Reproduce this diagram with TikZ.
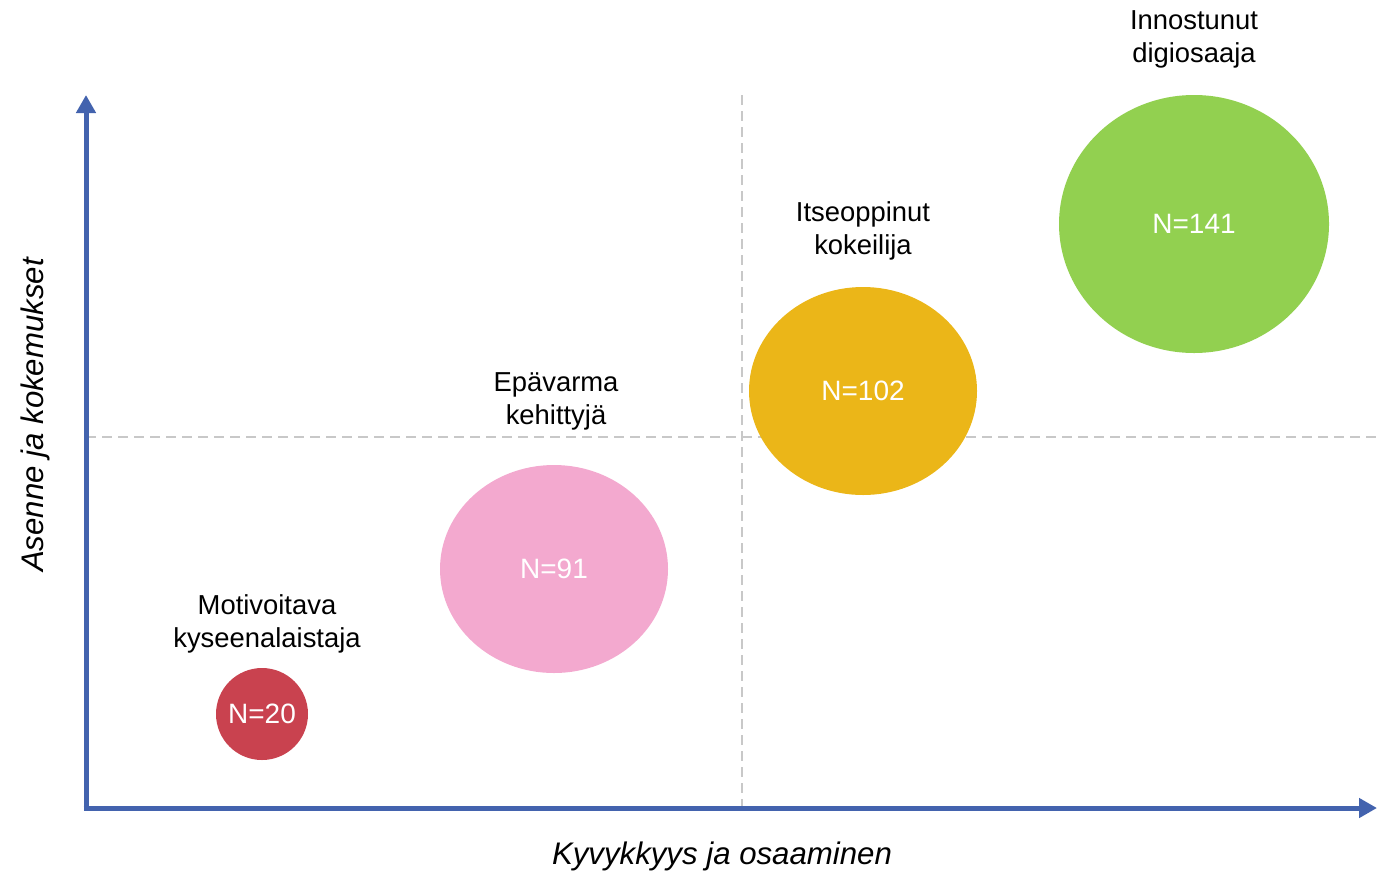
\documentclass[tikz,border=0pt]{standalone}
\usepackage{fontspec}
\setmainfont{Liberation Sans}
\usetikzlibrary{arrows.meta,shapes.geometric}
\definecolor{axisblue}{HTML}{4363AE}
\definecolor{gridgray}{HTML}{C8C8C8}
\definecolor{cred}{HTML}{C9424F}
\definecolor{cpink}{HTML}{F3A9CF}
\definecolor{corange}{HTML}{EBB618}
\definecolor{cgreen}{HTML}{92D050}
\newcommand{\bubtext}[1]{\makebox[0pt]{#1}}
\tikzset{
  axisline/.style={draw=axisblue, line width=2.5pt, -{Triangle[length=9pt,width=9.5pt]}},
  gridline/.style={draw=gridgray, line width=0.6pt, dash pattern=on 5pt off 3pt},
  bubble/.style={ellipse, inner sep=0pt, text=white, font=\fontsize{14}{16}\selectfont},
  grouplabel/.style={align=center, font=\fontsize{13.7}{16.5}\selectfont},
  axislabel/.style={font=\fontsize{15.6}{18}\selectfont\itshape},
}
\begin{document}
\begin{tikzpicture}[x=0.5pt,y=-0.5pt]
\useasboundingbox (0,0) rectangle (1384,873);
\coordinate (origin) at (86,808);
\coordinate (ytop) at (86,95);
\coordinate (xend) at (1377,808);
\coordinate (vtop) at (742,95);
\coordinate (vbot) at (742,808);
\coordinate (hleft) at (86,437);
\coordinate (hright) at (1380,437);
\draw[gridline] (vtop) -- (vbot);
\draw[gridline] (hleft) -- (hright);
\draw[axisline] ([xshift=0pt]origin) -- (ytop);
\draw[axisline] ([xshift=-1.25pt]origin) -- (xend);
\node[bubble, fill=cred, minimum width=46pt, minimum height=46pt] (b1) at (262,714) {\bubtext{N=20}};
\node[bubble, fill=cpink, minimum width=114pt, minimum height=104pt] (b2) at (554,569) {\bubtext{N=91}};
\node[bubble, fill=corange, minimum width=114pt, minimum height=104pt] (b3) at (863,391) {\bubtext{N=102}};
\node[bubble, fill=cgreen, minimum width=135pt, minimum height=129pt] (b4) at (1194,224) {\bubtext{N=141}};
\node[grouplabel] (l1) at (267,624) {Motivoitava\\kyseenalaistaja};
\node[grouplabel] (l2) at (556,401) {Epävarma\\kehittyjä};
\node[grouplabel] (l3) at (863,231) {Itseoppinut\\kokeilija};
\node[grouplabel] (l4) at (1194,39) {Innostunut\\digiosaaja};
\node[axislabel] (xl) at (722,856) {Kyvykkyys ja osaaminen};
\node[axislabel, rotate=90] (yl) at (35,415) {Asenne ja kokemukset};
\end{tikzpicture}
\end{document}
